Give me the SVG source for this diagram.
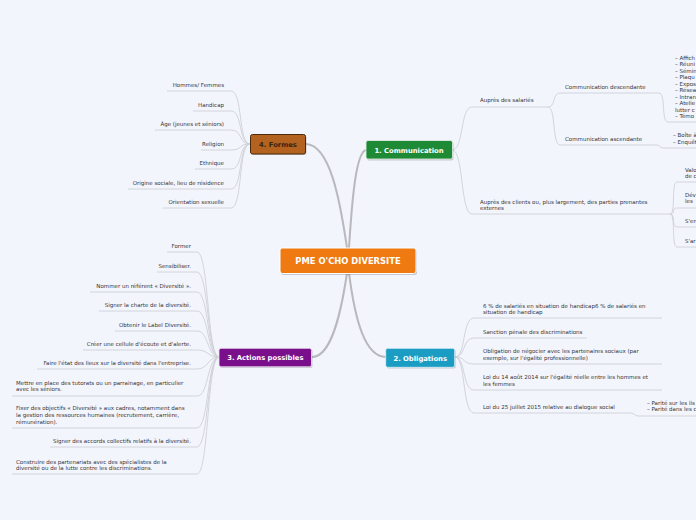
<svg xmlns="http://www.w3.org/2000/svg" width="696" height="520" viewBox="0 0 696 520">
<defs>
<style>
.bg{fill:#f3f5fd}
.t{font-family:"DejaVu Sans",Verdana,sans-serif;font-size:5.5px;fill:#333}
.r{text-anchor:end}
.nt{font-family:"DejaVu Sans",Verdana,sans-serif;font-weight:bold;text-anchor:middle;fill:#fff}
.main{fill:none;stroke:#b9b9bd;stroke-width:2;stroke-linecap:round}
.sub{fill:none;stroke:#cfd0d6;stroke-width:0.9}
.sh{fill:#000;opacity:0.18}
</style>
</defs>
<rect class="bg" x="0" y="0" width="696" height="520"/>

<g id="connectors">
<path class="main" d="M349,248 C352,200 356,152 366,150"/>
<path class="main" d="M347,248 C340,200 330,145 306,144"/>
<path class="main" d="M347,273 C340,320 330,357 312,357"/>
<path class="main" d="M349,273 C355,320 365,357 386,357"/>
<path class="sub" d="M452,150 C464,150 460,107 472,107 H548"/>
<path class="sub" d="M548,107 C556,107 552,93 560,93 H659"/>
<path class="sub" d="M659,93 C666,93 661,122 668,122 H696"/>
<path class="sub" d="M548,107 C556,107 552,145 560,145 H657"/>
<path class="sub" d="M657,145 C660,145 660,148 663,148 H696"/>
<path class="sub" d="M452,150 C464,150 460,214 472,214 H670"/>
<path class="sub" d="M670,214 C676,214 671,182 677,182 H696"/>
<path class="sub" d="M670,214 C676,214 671,208 677,208 H696"/>
<path class="sub" d="M670,214 C676,214 671,227 677,227 H696"/>
<path class="sub" d="M670,214 C676,214 671,247 677,247 H696"/>
<path class="sub" d="M455,357 C466,357 462,318 474,318 H662"/>
<path class="sub" d="M455,357 C466,357 462,338 474,338 H587"/>
<path class="sub" d="M455,357 C466,357 462,364 474,364 H662"/>
<path class="sub" d="M455,357 C466,357 462,390 474,390 H662"/>
<path class="sub" d="M455,357 C466,357 462,413 474,413 H631"/>
<path class="sub" d="M631,413 C634,413 635,416 638,416 H696"/>
<path class="sub" d="M250,144 C238,144 243,91 231,91 H167"/>
<path class="sub" d="M250,144 C238,144 243,111 231,111 H193"/>
<path class="sub" d="M250,144 C238,144 243,130 231,130 H155"/>
<path class="sub" d="M250,144 C238,144 243,150 231,150 H201"/>
<path class="sub" d="M250,144 C238,144 243,169 231,169 H195"/>
<path class="sub" d="M250,144 C238,144 243,189 231,189 H128"/>
<path class="sub" d="M250,144 C238,144 243,208 231,208 H163"/>
<path class="sub" d="M219,357 C207,357 209,252 197,252 H167"/>
<path class="sub" d="M219,357 C207,357 209,272 197,272 H157"/>
<path class="sub" d="M219,357 C207,357 209,292 197,292 H90"/>
<path class="sub" d="M219,357 C207,357 209,311 197,311 H99"/>
<path class="sub" d="M219,357 C207,357 209,331 197,331 H115"/>
<path class="sub" d="M219,357 C207,357 209,350 197,350 H83"/>
<path class="sub" d="M219,357 C207,357 209,369 197,369 H37"/>
<path class="sub" d="M219,357 C207,357 209,396 197,396 H12"/>
<path class="sub" d="M219,357 C207,357 209,428 197,428 H12"/>
<path class="sub" d="M219,357 C207,357 209,447 197,447 H50"/>
<path class="sub" d="M219,357 C207,357 209,474 197,474 H12"/>
</g>

<g id="center">
<rect class="sh" x="281" y="249.5" width="136" height="25.5" rx="2.5"/>
<rect x="280" y="248" width="136" height="25.5" rx="2.5" fill="#ef7a12" stroke="#fff" stroke-width="1"/>
<text class="nt" x="348" y="264" font-size="8.4">PME O'CHO DIVERSITE</text>
</g>

<g id="n-communication">
<rect class="sh" x="367" y="142" width="86.5" height="18.5" rx="2"/>
<rect x="366" y="140.5" width="86.5" height="18.5" rx="2" fill="#1e8a36" stroke="#e8f0e8" stroke-width="0.8"/>
<text class="nt" x="409" y="152.5" font-size="6.8">1. Communication</text>
</g>

<g id="n-formes">
<rect class="sh" x="251.5" y="135.5" width="55" height="19.5" rx="2"/>
<rect x="250.5" y="134.5" width="55" height="19.5" rx="2" fill="#b3631f" stroke="#4a2a0c" stroke-width="1"/>
<text class="nt" x="278" y="147" font-size="6.8" style="fill:#3a2310">4. Formes</text>
</g>

<g id="n-actions">
<rect class="sh" x="220" y="349.5" width="92.5" height="18.5" rx="2"/>
<rect x="219" y="348.3" width="92.5" height="18.5" rx="2" fill="#7a0f8c" stroke="#efe6f2" stroke-width="0.8"/>
<text class="nt" x="265.3" y="360.3" font-size="6.8">3. Actions possibles</text>
</g>

<g id="n-obligations">
<rect class="sh" x="386.7" y="349.5" width="69" height="19" rx="2"/>
<rect x="385.7" y="348.3" width="69" height="19" rx="2" fill="#1b9dc3" stroke="#e6f3f8" stroke-width="0.8"/>
<text class="nt" x="420.2" y="360.5" font-size="6.8">2. Obligations</text>
</g>

<g id="communication-children">
<text class="t" x="480" y="102">Auprès des salariés</text>
<text class="t" x="565" y="89">Communication descendante</text>
<text class="t" x="675" y="59.5">– Affich</text>
<text class="t" x="675" y="66">– Réuni</text>
<text class="t" x="675" y="72.5">– Sémin</text>
<text class="t" x="675" y="79">– Plaqu</text>
<text class="t" x="675" y="85.5">– Expos</text>
<text class="t" x="675" y="92">– Résea</text>
<text class="t" x="675" y="98.5">– Intran</text>
<text class="t" x="675" y="105">– Atelie</text>
<text class="t" x="675" y="111.5">lutter c</text>
<text class="t" x="675" y="118">– Témo</text>
<text class="t" x="565" y="141">Communication ascendante</text>
<text class="t" x="673" y="137">– Boîte à</text>
<text class="t" x="673" y="144">– Enquêt</text>
<text class="t" x="480" y="204">Auprès des clients ou, plus largement, des parties prenantes</text>
<text class="t" x="480" y="210">externes</text>
<text class="t" x="685" y="172">Valo</text>
<text class="t" x="685" y="178">de c</text>
<text class="t" x="685" y="197">Dév</text>
<text class="t" x="685" y="203">les</text>
<text class="t" x="685" y="223">S'en</text>
<text class="t" x="685" y="243">S'ar</text>
</g>

<g id="obligations-children">
<text class="t" x="483" y="308">6 % de salariés en situation de handicap6 % de salariés en</text>
<text class="t" x="483" y="314">situation de handicap</text>
<text class="t" x="483" y="334">Sanction pénale des discriminations</text>
<text class="t" x="483" y="353">Obligation de négocier avec les partenaires sociaux (par</text>
<text class="t" x="483" y="360">exemple, sur l'égalité professionnelle)</text>
<text class="t" x="483" y="379">Loi du 14 août 2014 sur l'égalité réelle entre les hommes et</text>
<text class="t" x="483" y="386">les femmes</text>
<text class="t" x="483" y="409">Loi du 25 juillet 2015 relative au dialogue social</text>
<text class="t" x="647" y="404.5">– Parité sur les lis</text>
<text class="t" x="647" y="410.5">– Parité dans les c</text>
</g>

<g id="formes-children">
<text class="t r" x="224" y="87">Hommes/ Femmes</text>
<text class="t r" x="224" y="107">Handicap</text>
<text class="t r" x="224" y="126">Âge (jeunes et séniors)</text>
<text class="t r" x="224" y="146">Religion</text>
<text class="t r" x="224" y="165">Ethnique</text>
<text class="t r" x="224" y="185">Origine sociale, lieu de résidence</text>
<text class="t r" x="224" y="204">Orientation sexuelle</text>
</g>

<g id="actions-children">
<text class="t r" x="191" y="248">Former</text>
<text class="t r" x="191" y="268">Sensibiliser.</text>
<text class="t r" x="191" y="288">Nommer un référent « Diversité ».</text>
<text class="t r" x="191" y="307">Signer la charte de la diversité.</text>
<text class="t r" x="191" y="326.5">Obtenir le Label Diversité.</text>
<text class="t r" x="191" y="346">Créer une cellule d'écoute et d'alerte.</text>
<text class="t r" x="191" y="365">Faire l'état des lieux sur la diversité dans l'entreprise.</text>
<text class="t" x="16" y="384.5">Mettre en place des tutorats ou un parrainage, en particulier</text>
<text class="t" x="16" y="391">avec les séniors.</text>
<text class="t" x="16" y="410">Fixer des objectifs « Diversité » aux cadres, notamment dans</text>
<text class="t" x="16" y="417">la gestion des ressources humaines (recrutement, carrière,</text>
<text class="t" x="16" y="423.5">rémunération).</text>
<text class="t r" x="191" y="443">Signer des accords collectifs relatifs à la diversité.</text>
<text class="t" x="16" y="463.5">Construire des partenariats avec des spécialistes de la</text>
<text class="t" x="16" y="469.5">diversité ou de la lutte contre les discriminations.</text>
</g>
</svg>
